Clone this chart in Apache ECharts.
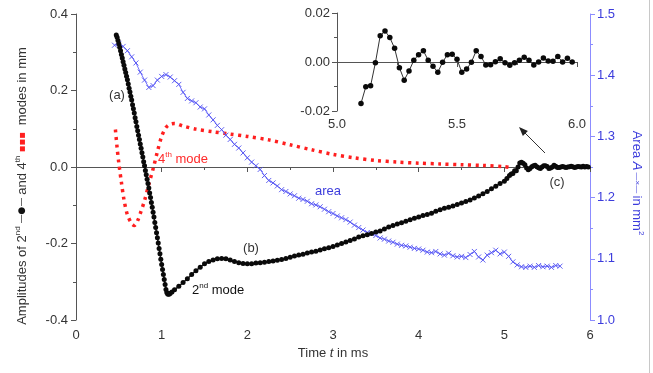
<!DOCTYPE html>
<html>
<head>
<meta charset="utf-8">
<script src="https://cdn.jsdelivr.net/npm/echarts@6/dist/echarts.min.js"></script>
<style>
  html, body { margin: 0; padding: 0; background: #fff; }
  #chart { width: 653px; height: 373px; }
</style>
</head>
<body>
<div id="chart"></div>
<script>
// 2nd mode, fast drop (t in ms, amplitude in mm)
const modeTwoDrop = [
  [0.47, 0.345], [0.48, 0.339], [0.49, 0.331], [0.50, 0.322], [0.51, 0.313], [0.52, 0.304],
  [0.53, 0.294], [0.54, 0.285], [0.55, 0.275], [0.56, 0.266], [0.57, 0.256], [0.58, 0.247],
  [0.59, 0.237], [0.60, 0.228], [0.61, 0.217], [0.62, 0.206], [0.63, 0.196], [0.64, 0.185],
  [0.65, 0.175], [0.66, 0.163], [0.67, 0.152], [0.68, 0.141], [0.69, 0.129], [0.70, 0.118],
  [0.71, 0.106], [0.72, 0.095], [0.73, 0.083], [0.74, 0.072], [0.75, 0.060], [0.76, 0.049],
  [0.77, 0.037], [0.78, 0.026], [0.79, 0.014], [0.80, 0.003], [0.81, -0.009], [0.82, -0.020],
  [0.83, -0.032], [0.84, -0.043], [0.85, -0.055], [0.86, -0.068], [0.87, -0.080], [0.88, -0.093],
  [0.89, -0.105], [0.90, -0.118], [0.91, -0.131], [0.92, -0.145], [0.93, -0.158], [0.94, -0.172],
  [0.95, -0.185], [0.96, -0.199], [0.97, -0.213], [0.98, -0.227], [0.99, -0.241], [1.00, -0.255],
  [1.01, -0.268], [1.02, -0.281], [1.03, -0.294], [1.04, -0.307], [1.05, -0.320], [1.06, -0.328],
  [1.07, -0.332], [1.08, -0.333], [1.09, -0.332], [1.10, -0.330]
];

// 2nd mode, slow recovery
const modeTwoRise = [
  [1.12, -0.327], [1.15, -0.321], [1.20, -0.312], [1.25, -0.302], [1.30, -0.292], [1.35, -0.281],
  [1.40, -0.271], [1.45, -0.262], [1.50, -0.253], [1.55, -0.247], [1.60, -0.243], [1.65, -0.240],
  [1.70, -0.239], [1.75, -0.240], [1.80, -0.243], [1.85, -0.247], [1.90, -0.250], [1.95, -0.252],
  [2.00, -0.253], [2.05, -0.253], [2.10, -0.251], [2.15, -0.250], [2.20, -0.249], [2.25, -0.247],
  [2.30, -0.246], [2.35, -0.244], [2.40, -0.242], [2.45, -0.239], [2.50, -0.236], [2.55, -0.233],
  [2.60, -0.230], [2.65, -0.228], [2.70, -0.225], [2.75, -0.222], [2.80, -0.220], [2.85, -0.217],
  [2.90, -0.214], [2.95, -0.211], [3.00, -0.208], [3.05, -0.204], [3.10, -0.200], [3.15, -0.196],
  [3.20, -0.192], [3.25, -0.188], [3.30, -0.183], [3.35, -0.180], [3.40, -0.177], [3.45, -0.174],
  [3.50, -0.170], [3.55, -0.167], [3.60, -0.162], [3.65, -0.157], [3.70, -0.153], [3.75, -0.149],
  [3.80, -0.146], [3.85, -0.142], [3.90, -0.138], [3.95, -0.134], [4.00, -0.131], [4.05, -0.127],
  [4.10, -0.124], [4.15, -0.121], [4.20, -0.116], [4.25, -0.112], [4.30, -0.108], [4.35, -0.105],
  [4.40, -0.102], [4.45, -0.098], [4.50, -0.094], [4.55, -0.090], [4.60, -0.086], [4.65, -0.081],
  [4.70, -0.076], [4.75, -0.070], [4.80, -0.064], [4.85, -0.057], [4.90, -0.050], [4.95, -0.043],
  [5.00, -0.037], [5.03, -0.030], [5.06, -0.022], [5.08, -0.018]
];

// 2nd mode settling, also shown in the inset
const modeTwoTail = [
  [5.10, -0.0169], [5.12, -0.0101], [5.14, -0.0097], [5.16, -0.0003], [5.18, 0.0107], [5.20, 0.0127],
  [5.22, 0.0100], [5.24, 0.0056], [5.26, -0.0023], [5.28, -0.0074], [5.30, -0.0037], [5.32, 0.0007],
  [5.34, 0.0030], [5.36, 0.0046], [5.38, 0.0007], [5.40, -0.0017], [5.42, -0.0042], [5.44, -0.0001],
  [5.46, 0.0030], [5.48, 0.0032], [5.50, 0.0011], [5.52, -0.0042], [5.54, -0.0029], [5.56, -0.0001],
  [5.58, 0.0046], [5.60, 0.0022], [5.62, -0.0012], [5.64, -0.0011], [5.66, 0.0001], [5.68, 0.0013],
  [5.70, -0.0003], [5.72, -0.0013], [5.74, -0.0003], [5.76, 0.0007], [5.78, 0.0019], [5.80, 0.0007],
  [5.82, -0.0012], [5.84, 0.0000], [5.86, 0.0016], [5.88, 0.0004], [5.90, 0.0003], [5.92, 0.0022],
  [5.94, 0.0000], [5.96, 0.0015], [5.98, 0.0000]
];

// 4th mode (red dotted)
const modeFour = [
  [0.46, 0.098], [0.48, 0.050], [0.50, 0.010], [0.53, -0.040], [0.56, -0.085], [0.60, -0.125],
  [0.65, -0.148], [0.68, -0.153], [0.72, -0.140], [0.76, -0.115], [0.80, -0.088], [0.85, -0.045],
  [0.90, -0.005], [0.95, 0.040], [1.00, 0.080], [1.05, 0.103], [1.10, 0.112], [1.15, 0.114],
  [1.25, 0.107], [1.40, 0.099], [1.60, 0.092], [1.80, 0.086], [2.00, 0.080], [2.25, 0.071],
  [2.50, 0.058], [2.75, 0.045], [3.00, 0.033], [3.25, 0.024], [3.50, 0.017], [3.75, 0.013],
  [4.00, 0.010], [4.25, 0.008], [4.50, 0.006], [4.75, 0.004], [5.00, 0.001], [5.08, -0.002]
];

// area A in mm^2 (right axis)
const areaValues = [
  [0.45, 1.449], [0.50, 1.452], [0.55, 1.447], [0.60, 1.440], [0.65, 1.430], [0.70, 1.420],
  [0.75, 1.405], [0.80, 1.392], [0.85, 1.380], [0.90, 1.383], [0.95, 1.392], [1.00, 1.398],
  [1.05, 1.401], [1.10, 1.397], [1.15, 1.391], [1.20, 1.385], [1.25, 1.372], [1.30, 1.362],
  [1.35, 1.358], [1.40, 1.355], [1.45, 1.348], [1.50, 1.345], [1.55, 1.335], [1.60, 1.327],
  [1.65, 1.318], [1.70, 1.311], [1.75, 1.302], [1.80, 1.295], [1.85, 1.287], [1.90, 1.281],
  [1.95, 1.273], [2.00, 1.265], [2.05, 1.258], [2.10, 1.252], [2.15, 1.246], [2.20, 1.236],
  [2.25, 1.228], [2.30, 1.224], [2.35, 1.219], [2.40, 1.213], [2.45, 1.210], [2.50, 1.206],
  [2.55, 1.203], [2.60, 1.199], [2.65, 1.197], [2.70, 1.194], [2.75, 1.190], [2.80, 1.188],
  [2.85, 1.185], [2.90, 1.181], [2.95, 1.177], [3.00, 1.174], [3.05, 1.170], [3.10, 1.167],
  [3.15, 1.164], [3.20, 1.160], [3.25, 1.155], [3.30, 1.151], [3.35, 1.147], [3.40, 1.143],
  [3.45, 1.141], [3.50, 1.138], [3.55, 1.134], [3.60, 1.132], [3.65, 1.129], [3.70, 1.127],
  [3.75, 1.124], [3.80, 1.122], [3.85, 1.121], [3.90, 1.119], [3.95, 1.117], [4.00, 1.116],
  [4.05, 1.114], [4.10, 1.111], [4.15, 1.110], [4.20, 1.112], [4.25, 1.108], [4.30, 1.106],
  [4.35, 1.109], [4.40, 1.105], [4.45, 1.103], [4.50, 1.104], [4.55, 1.102], [4.60, 1.107],
  [4.65, 1.112], [4.70, 1.103], [4.75, 1.098], [4.80, 1.106], [4.85, 1.110], [4.90, 1.114],
  [4.95, 1.108], [5.00, 1.111], [5.05, 1.104], [5.10, 1.095], [5.15, 1.090], [5.20, 1.087],
  [5.25, 1.086], [5.30, 1.088], [5.35, 1.086], [5.40, 1.089], [5.45, 1.087], [5.50, 1.088],
  [5.55, 1.086], [5.60, 1.089], [5.65, 1.088]
];

const mainTimeTicks = [0, 6, 1];       // min, max, interval
const ampTicks = [-0.4, 0.4, 0.2];
const areaTicks = [1.0, 1.5, 0.1];
const insetTimeTicks = [5.0, 6.0, 0.5];
const insetAmpTicks = [-0.02, 0.02, 0.02];

const font = 'Liberation Sans, Arial, sans-serif';
const dark = '#333';
const blue = '#3c3cdc';

const chart = echarts.init(document.getElementById('chart'), null, { renderer: 'canvas' });

function axisBase(ticks, digits, color, lineColor, size, margin) {
    return {
        type: 'value',
        min: ticks[0],
        max: ticks[1],
        interval: ticks[2],
        axisLine: { show: true, lineStyle: { color: lineColor, width: 1 } },
        axisTick: { show: true, length: 5, lineStyle: { color: lineColor } },
        minorTick: { show: true, splitNumber: 2, length: 3, lineStyle: { color: lineColor } },
        splitLine: { show: false },
        axisLabel: {
            color: color, fontSize: size, fontFamily: font, margin: margin,
            formatter: v => v.toFixed(digits)
        }
    };
}

const option = {
    animation: false,
    backgroundColor: '#fff',
    grid: [
        { left: 76, right: 63, top: 14, bottom: 53 },
        { left: 337, top: 13, width: 240, height: 98 }
    ],
    xAxis: [
        Object.assign(axisBase(mainTimeTicks, 0, dark, '#555', 13, 9), { gridIndex: 0 }),
        Object.assign(axisBase(insetTimeTicks, 1, dark, '#555', 13, 7), { gridIndex: 1 })
    ],
    yAxis: [
        Object.assign(axisBase(ampTicks, 1, dark, '#555', 13, 8), { gridIndex: 0 }),
        Object.assign(axisBase(areaTicks, 1, blue, '#8c8cff', 13, 7), { gridIndex: 0, position: 'right' }),
        Object.assign(axisBase(insetAmpTicks, 2, dark, '#555', 13, 7), { gridIndex: 1 })
    ],
    series: [
        {
            name: '4th mode', type: 'line', xAxisIndex: 0, yAxisIndex: 0,
            data: modeFour, showSymbol: false, smooth: 0.3,
            lineStyle: { color: '#ff1f1f', width: 3.5, type: [3, 4.5], cap: 'butt' }
        },
        {
            name: 'area', type: 'line', xAxisIndex: 0, yAxisIndex: 1,
            data: areaValues, showAllSymbol: true,
            symbol: 'path://M0,0L10,10M0,10L10,0', symbolSize: 5,
            itemStyle: { color: 'rgba(0,0,0,0)', borderColor: '#5050f0', borderWidth: 0.9 },
            lineStyle: { color: '#7070ff', width: 1 }
        },
        {
            name: '2nd mode', type: 'line', xAxisIndex: 0, yAxisIndex: 0,
            data: modeTwoDrop.concat(modeTwoRise, modeTwoTail), showAllSymbol: true,
            symbol: 'circle', symbolSize: 5,
            itemStyle: { color: '#0a0a0a' },
            lineStyle: { color: '#222', width: 1.5 }
        },
        {
            name: 'inset', type: 'line', xAxisIndex: 1, yAxisIndex: 2,
            data: modeTwoTail, showAllSymbol: true,
            symbol: 'circle', symbolSize: 5.5,
            itemStyle: { color: '#0a0a0a' },
            lineStyle: { color: '#333', width: 1 }
        }
    ],
    graphic: [
        {   // left axis title
            type: 'text', x: 22, y: 186, rotation: Math.PI / 2,
            style: {
                text: '{a|Amplitudes of 2}{s|nd}{k| —●— }{a|and 4}{s|th}{r| ▪▪▪ }{a| modes in mm}',
                align: 'center', verticalAlign: 'middle',
                rich: {
                    a: { fontSize: 13, fontFamily: font, fill: dark, lineHeight: 16 },
                    s: { fontSize: 8, fontFamily: font, fill: dark, verticalAlign: 'top', lineHeight: 16 },
                    k: { fontSize: 9, fontFamily: 'DejaVu Sans', fill: '#111', lineHeight: 16 },
                    r: { fontSize: 10, fontFamily: 'DejaVu Sans', fill: '#ff1f1f', lineHeight: 16 }
                }
            }
        },
        {   // right axis title
            type: 'text', x: 637, y: 183, rotation: -Math.PI / 2,
            style: {
                text: '{a|Area }{i|A}{k| —×— }{a|in mm}{s|2}',
                align: 'center', verticalAlign: 'middle',
                rich: {
                    a: { fontSize: 13, fontFamily: font, fill: blue, lineHeight: 16 },
                    i: { fontSize: 13, fontFamily: font, fontStyle: 'italic', fill: blue, lineHeight: 16 },
                    k: { fontSize: 8, fontFamily: font, fill: blue, lineHeight: 16 },
                    s: { fontSize: 8, fontFamily: font, fill: blue, verticalAlign: 'top', lineHeight: 16 }
                }
            }
        },
        {   // x axis title
            type: 'text', x: 333, y: 353,
            style: {
                text: '{a|Time }{i|t}{a| in ms}',
                align: 'center', verticalAlign: 'middle',
                rich: {
                    a: { fontSize: 13, fontFamily: font, fill: dark },
                    i: { fontSize: 13, fontFamily: font, fontStyle: 'italic', fill: dark }
                }
            }
        },
        { type: 'text', x: 117, y: 95, style: { text: '(a)', fontSize: 13, fontFamily: font, fill: dark, align: 'center', verticalAlign: 'middle' } },
        { type: 'text', x: 251, y: 248, style: { text: '(b)', fontSize: 13, fontFamily: font, fill: dark, align: 'center', verticalAlign: 'middle' } },
        { type: 'text', x: 557, y: 182, style: { text: '(c)', fontSize: 13, fontFamily: font, fill: dark, align: 'center', verticalAlign: 'middle' } },
        { type: 'text', x: 328, y: 191, style: { text: 'area', fontSize: 13, fontFamily: font, fill: blue, align: 'center', verticalAlign: 'middle' } },
        {
            type: 'text', x: 158, y: 159,
            style: {
                text: '{a|4}{s|th}{a| mode}', align: 'left', verticalAlign: 'middle',
                rich: {
                    a: { fontSize: 13, fontFamily: font, fill: '#ff2a2a', lineHeight: 16 },
                    s: { fontSize: 8, fontFamily: font, fill: '#ff2a2a', verticalAlign: 'top', lineHeight: 16 }
                }
            }
        },
        {
            type: 'text', x: 192, y: 290,
            style: {
                text: '{a|2}{s|nd}{a| mode}', align: 'left', verticalAlign: 'middle',
                rich: {
                    a: { fontSize: 13, fontFamily: font, fill: '#111', lineHeight: 16 },
                    s: { fontSize: 8, fontFamily: font, fill: '#111', verticalAlign: 'top', lineHeight: 16 }
                }
            }
        },
        // arrow pointing at the inset
        { type: 'line', shape: { x1: 545, y1: 153, x2: 523, y2: 131 }, style: { stroke: '#333', lineWidth: 1 } },
        { type: 'polygon', shape: { points: [[519, 127], [527.9, 130.9], [522.9, 135.9]] }, style: { fill: '#222' } },
        // figure frame on the right edge
        { type: 'line', shape: { x1: 649.5, y1: 0, x2: 649.5, y2: 373 }, style: { stroke: '#c8c8c8', lineWidth: 1 } }
    ]
};

chart.setOption(option);
</script>
</body>
</html>
